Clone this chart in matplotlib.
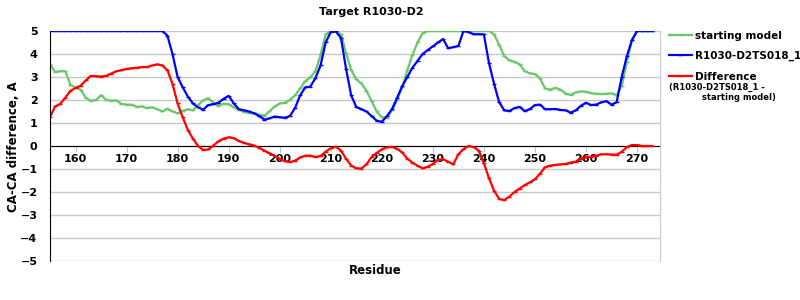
import numpy as np
import matplotlib
matplotlib.use("Agg")
import matplotlib.pyplot as plt

# residues 155..273
residues = np.arange(155, 274)

starting_model = [
    3.55, 3.22, 3.25, 3.25, 2.65, 2.55, 2.45, 2.10, 1.97, 2.00,   # 155-164
    2.20, 2.02, 1.97, 1.98, 1.83, 1.80, 1.80, 1.70, 1.72, 1.65,   # 165-174
    1.68, 1.60, 1.50, 1.62, 1.50, 1.42, 1.52, 1.60, 1.55, 1.78,   # 175-184
    1.98, 2.08, 1.88, 1.75, 1.84, 1.82, 1.68, 1.58, 1.48, 1.44,   # 185-194
    1.42, 1.36, 1.32, 1.50, 1.72, 1.85, 1.88, 2.00, 2.20, 2.50,   # 195-204
    2.82, 2.98, 3.25, 3.95, 4.85, 5.00, 5.00, 4.85, 4.05, 3.30,   # 205-214
    2.90, 2.72, 2.40, 1.95, 1.50, 1.25, 1.22, 1.55, 2.00, 2.55,   # 215-224
    3.30, 3.95, 4.50, 4.90, 5.00, 5.00, 5.00, 5.00, 5.00, 5.00,   # 225-234
    5.00, 5.00, 5.00, 5.00, 5.00, 5.00, 5.00, 4.85, 4.40, 3.90,   # 235-244
    3.72, 3.66, 3.55, 3.25, 3.16, 3.13, 2.94, 2.50, 2.45, 2.53,   # 245-254
    2.45, 2.28, 2.22, 2.33, 2.37, 2.36, 2.30, 2.27, 2.26, 2.27,   # 255-264
    2.29, 2.20, 2.60, 3.65, 4.60, 5.00, 5.00, 5.00, 5.00,         # 265-273
]

model_ts018 = [
    5.00, 5.00, 5.00, 5.00, 5.00, 5.00, 5.00, 5.00, 5.00, 5.00,   # 155-164
    5.00, 5.00, 5.00, 5.00, 5.00, 5.00, 5.00, 5.00, 5.00, 5.00,   # 165-174
    5.00, 5.00, 5.00, 4.80, 4.00, 3.00, 2.55, 2.15, 1.85, 1.68,   # 175-184
    1.58, 1.78, 1.82, 1.88, 2.05, 2.18, 1.85, 1.60, 1.55, 1.50,   # 185-194
    1.42, 1.30, 1.15, 1.20, 1.28, 1.25, 1.23, 1.30, 1.65, 2.20,   # 195-204
    2.55, 2.58, 2.95, 3.50, 4.50, 4.95, 4.98, 4.70, 3.35, 2.20,   # 205-214
    1.70, 1.60, 1.50, 1.30, 1.10, 1.05, 1.30, 1.60, 2.10, 2.60,   # 215-224
    3.00, 3.40, 3.70, 4.00, 4.17, 4.33, 4.50, 4.65, 4.25, 4.30,   # 225-234
    4.35, 5.00, 4.95, 4.86, 4.86, 4.85, 3.60, 2.70, 1.90, 1.55,   # 235-244
    1.52, 1.65, 1.70, 1.52, 1.60, 1.78, 1.80, 1.60, 1.60, 1.61,   # 245-254
    1.57, 1.55, 1.45, 1.55, 1.75, 1.88, 1.78, 1.80, 1.90, 1.95,   # 255-264
    1.80, 1.90, 3.00, 3.90, 4.60, 5.00, 5.00, 5.00, 5.00,         # 265-273
]

difference = [
    1.25, 1.72, 1.83, 2.10, 2.40, 2.52, 2.62, 2.85, 3.05, 3.03,   # 155-164
    3.02, 3.05, 3.15, 3.25, 3.30, 3.35, 3.38, 3.40, 3.43, 3.43,   # 165-174
    3.50, 3.55, 3.50, 3.30, 2.70, 1.85, 1.25, 0.70, 0.32, 0.00,   # 175-184
    -0.17, -0.15, 0.02, 0.20, 0.32, 0.38, 0.34, 0.22, 0.14, 0.07,  # 185-194
    0.02, -0.08, -0.20, -0.32, -0.43, -0.56, -0.66, -0.70, -0.64, -0.50,  # 195-204
    -0.42, -0.42, -0.48, -0.44, -0.25, -0.10, -0.03, -0.20, -0.55, -0.85,  # 205-214
    -0.97, -0.98, -0.80, -0.48, -0.30, -0.15, -0.06, -0.04, -0.12, -0.28,  # 215-224
    -0.55, -0.72, -0.86, -0.97, -0.90, -0.78, -0.60, -0.58, -0.68, -0.80,  # 225-234
    -0.36, -0.14, 0.00, -0.05, -0.20, -0.75, -1.40, -1.95, -2.30, -2.35,  # 235-244
    -2.20, -2.00, -1.85, -1.70, -1.58, -1.45, -1.20, -0.92, -0.85, -0.82,  # 245-254
    -0.80, -0.78, -0.72, -0.68, -0.55, -0.48, -0.48, -0.42, -0.36, -0.36,  # 255-264
    -0.37, -0.38, -0.25, -0.05, 0.04, 0.04, 0.00, 0.00, 0.00,     # 265-273
]

x_ticks = [160, 170, 180, 190, 200, 210, 220, 230, 240, 250, 260, 270]
y_ticks = [-5, -4, -3, -2, -1, 0, 1, 2, 3, 4, 5]

plt.rcParams['font.family'] = ['DejaVu Sans']
plt.rcParams['font.weight'] = 'bold'

fig = plt.figure(figsize=(8, 3), dpi=100)
ax = fig.add_axes([0.0625, 0.13, 0.7625, 0.7667])

green = '#66c866'
line_kw = dict(lw=1.6, marker='_', ms=3.5, mew=1.0)
ax.plot(residues, starting_model, color=green, label='starting model', **line_kw)
ax.plot(residues, model_ts018, color='#0000ff', label='R1030-D2TS018_1', **line_kw)
ax.plot(residues, difference, color='#ff0000', label='Difference', **line_kw)

ax.set_xlim(155, 274.5)
ax.set_ylim(-5, 5)
ax.set_xticks(x_ticks)
ax.set_yticks(y_ticks)
ax.set_yticklabels([str(v).replace('-', '\u2212') for v in y_ticks])
ax.grid(axis='y', color='#c8c8c8', lw=1.0)
ax.set_axisbelow(True)

ax.spines['bottom'].set_position(('data', 0))
ax.spines['bottom'].set_color('black')
ax.spines['bottom'].set_zorder(1.5)
ax.spines['left'].set_color('black')
ax.spines['right'].set_color('#c8c8c8')
ax.spines['top'].set_visible(False)

ax.tick_params(axis='x', direction='out', length=4, color='#c0c0c0',
               labelcolor='black', labelsize=8, pad=2)
ax.tick_params(axis='y', length=0, labelsize=8, pad=9)
for lbl in ax.get_xticklabels() + ax.get_yticklabels():
    lbl.set_fontweight('bold')

fig.text(371 / 800, 1 - 12 / 300, 'Target R1030-D2', ha='center', va='center',
         fontsize=8, fontweight='bold')
fig.text(375 / 800, 1 - 270 / 300, 'Residue', ha='center', va='center',
         fontsize=8.5, fontweight='bold')
fig.text(14 / 800, 0.51, 'CA-CA difference, A', rotation=90, ha='center',
         va='center', fontsize=8.5, fontweight='bold')

leg = fig.legend(loc='upper left', bbox_to_anchor=(0.836, 0.898), frameon=False,
                 fontsize=7.5, handlelength=2.2, handletextpad=0.35,
                 labelspacing=1.0, borderpad=0, borderaxespad=0)
for t in leg.get_texts():
    t.set_fontweight('bold')
fig.text(669 / 800, 1 - 87 / 300, '(R1030-D2TS018_1 -', ha='left', va='center',
         fontsize=6, fontweight='bold')
fig.text(702 / 800, 1 - 98 / 300, 'starting model)', ha='left', va='center',
         fontsize=6, fontweight='bold')

fig.savefig('out.png', dpi=100)
